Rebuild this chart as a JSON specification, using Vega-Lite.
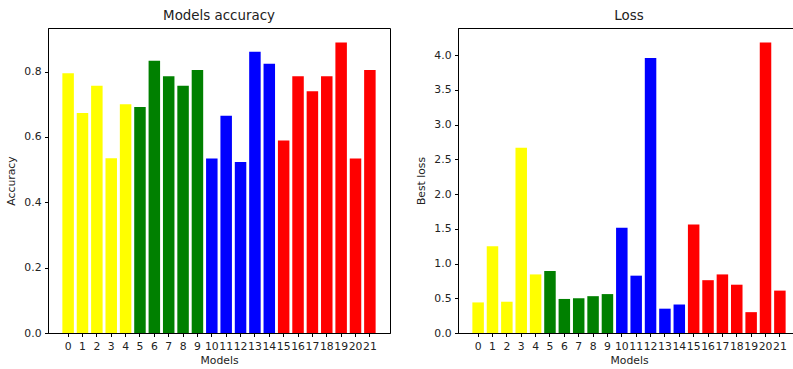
{
  "$schema": "https://vega.github.io/schema/vega-lite/v6.json",
  "padding": {"left": 5, "top": 8, "right": 0, "bottom": 0},
  "bounds": "flush",
  "spacing": 68,
  "config": {
    "font": "DejaVu Sans",
    "view": {"stroke": "#000000", "strokeWidth": 1},
    "axis": {
      "domainColor": "#000000",
      "tickColor": "#000000",
      "labelColor": "#222222",
      "titleColor": "#222222",
      "labelFont": "DejaVu Sans",
      "titleFont": "DejaVu Sans",
      "labelFontSize": 10.8,
      "titleFontSize": 10.8,
      "titleFontWeight": "normal",
      "tickSize": 3.5,
      "labelPadding": 3.5,
      "grid": false
    },
    "title": {"font": "DejaVu Sans", "fontSize": 13.4, "fontWeight": "normal", "color": "#222222", "offset": 6}
  },
  "data": {
    "values": [
      {"model": "0", "accuracy": 0.795, "loss": 0.44, "group": "a"},
      {"model": "1", "accuracy": 0.673, "loss": 1.25, "group": "a"},
      {"model": "2", "accuracy": 0.757, "loss": 0.45, "group": "a"},
      {"model": "3", "accuracy": 0.535, "loss": 2.666, "group": "a"},
      {"model": "4", "accuracy": 0.700, "loss": 0.843, "group": "a"},
      {"model": "5", "accuracy": 0.692, "loss": 0.892, "group": "b"},
      {"model": "6", "accuracy": 0.833, "loss": 0.49, "group": "b"},
      {"model": "7", "accuracy": 0.786, "loss": 0.50, "group": "b"},
      {"model": "8", "accuracy": 0.757, "loss": 0.53, "group": "b"},
      {"model": "9", "accuracy": 0.805, "loss": 0.56, "group": "b"},
      {"model": "10", "accuracy": 0.534, "loss": 1.515, "group": "c"},
      {"model": "11", "accuracy": 0.665, "loss": 0.825, "group": "c"},
      {"model": "12", "accuracy": 0.523, "loss": 3.957, "group": "c"},
      {"model": "13", "accuracy": 0.861, "loss": 0.35, "group": "c"},
      {"model": "14", "accuracy": 0.824, "loss": 0.41, "group": "c"},
      {"model": "15", "accuracy": 0.589, "loss": 1.56, "group": "d"},
      {"model": "16", "accuracy": 0.786, "loss": 0.76, "group": "d"},
      {"model": "17", "accuracy": 0.740, "loss": 0.843, "group": "d"},
      {"model": "18", "accuracy": 0.786, "loss": 0.695, "group": "d"},
      {"model": "19", "accuracy": 0.889, "loss": 0.30, "group": "d"},
      {"model": "20", "accuracy": 0.534, "loss": 4.18, "group": "d"},
      {"model": "21", "accuracy": 0.805, "loss": 0.61, "group": "d"}
    ]
  },
  "hconcat": [
    {
      "width": 342,
      "height": 305,
      "title": "Models accuracy",
      "mark": {"type": "bar"},
      "encoding": {
        "x": {
          "field": "model", "type": "ordinal", "sort": null, "title": "Models",
          "scale": {"paddingInner": 0.2, "paddingOuter": 1.09},
          "axis": {"labelAngle": 0, "labelOverlap": false, "titlePadding": 3.5}
        },
        "y": {
          "field": "accuracy", "type": "quantitative", "title": "Accuracy",
          "scale": {"domain": [0, 0.9335], "nice": false},
          "axis": {"values": [0, 0.2, 0.4, 0.6, 0.8], "format": ".1f", "titlePadding": 7}
        },
        "color": {
          "field": "group", "type": "nominal", "legend": null,
          "scale": {"domain": ["a", "b", "c", "d"], "range": ["#ffff00", "#008000", "#0000ff", "#ff0000"]}
        }
      }
    },
    {
      "width": 342,
      "height": 305,
      "title": "Loss",
      "mark": {"type": "bar"},
      "encoding": {
        "x": {
          "field": "model", "type": "ordinal", "sort": null, "title": "Models",
          "scale": {"paddingInner": 0.2, "paddingOuter": 1.09},
          "axis": {"labelAngle": 0, "labelOverlap": false, "titlePadding": 3.5}
        },
        "y": {
          "field": "loss", "type": "quantitative", "title": "Best loss",
          "scale": {"domain": [0, 4.389], "nice": false},
          "axis": {"values": [0, 0.5, 1, 1.5, 2, 2.5, 3, 3.5, 4], "format": ".1f", "titlePadding": 7}
        },
        "color": {
          "field": "group", "type": "nominal", "legend": null,
          "scale": {"domain": ["a", "b", "c", "d"], "range": ["#ffff00", "#008000", "#0000ff", "#ff0000"]}
        }
      }
    }
  ]
}
